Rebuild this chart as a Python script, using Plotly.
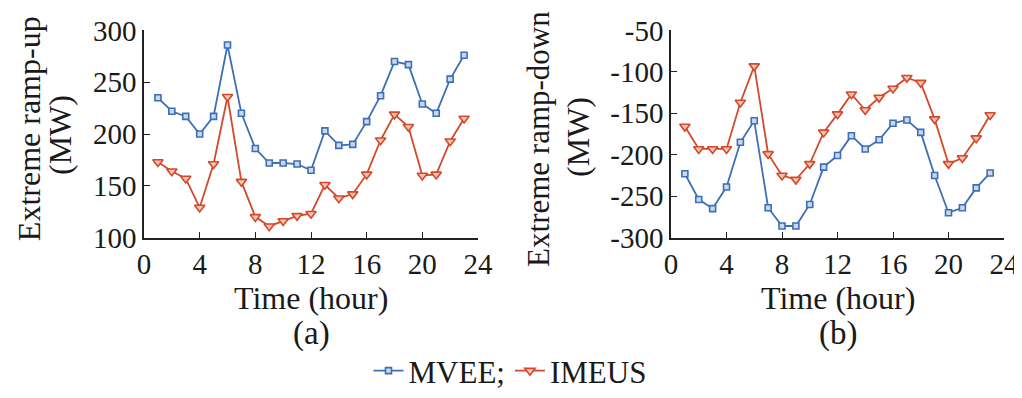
import plotly.graph_objects as go

hours = list(range(1, 24))
up_mvee = [235, 222, 217, 200, 217, 286, 220, 186, 172, 172, 171, 165, 203, 189, 190, 212, 237, 270, 267, 229, 220, 253, 276]
up_imeus = [173, 164, 157, 129, 171, 236, 154, 120, 111, 116, 121, 123, 151, 138, 142, 161, 194, 219, 207, 160, 161, 193, 215]
down_mvee = [-223, -254, -265, -239, -185, -159, -264, -286, -286, -260, -215, -201, -177, -193, -182, -162, -158, -173, -225, -270, -264, -240, -222]
down_imeus = [-166, -193, -193, -193, -137, -93, -199, -225, -230, -211, -173, -151, -127, -146, -131, -120, -107, -113, -157, -211, -204, -180, -152]

x_ticks = [0, 4, 8, 12, 16, 20, 24]
up_ticks = [100, 150, 200, 250, 300]
down_ticks = [-300, -250, -200, -150, -100, -50]
down_tick_text = ["-300", "-250", "-200", "-150", "-100", "-50"]

BLUE = "#3d6fb6"
RED = "#d24a2b"
FONT = "Liberation Serif"
TXT = "#1a1a1a"

# page body has an 8px margin; figure is sized to fill the rest of the window
W, H, OFF = 1014, 390, 8

fig = go.Figure()

def add(x, y, xa, ya, name, color, symbol, size, show):
    fig.add_trace(go.Scatter(
        x=x, y=y, xaxis=xa, yaxis=ya, name=name, mode="lines+markers",
        line=dict(color=color, width=1.8),
        marker=dict(symbol=symbol, size=size, color="#c9d8ee" if symbol == "square" else "#f3c4b4",
                    line=dict(color=color, width=1.6)),
        showlegend=show, legendrank=1 if name.startswith("MVEE") else 2,
    ))

add(hours, up_mvee, "x", "y", "MVEE;", BLUE, "square", 6, True)
add(hours, up_imeus, "x", "y", "IMEUS", RED, "triangle-down", 9, True)
add(hours, down_mvee, "x2", "y2", "MVEE;", BLUE, "square", 6, False)
add(hours, down_imeus, "x2", "y2", "IMEUS", RED, "triangle-down", 9, False)

def px(xp):
    return (xp - OFF) / W

def py(yp):
    return 1 - (yp - OFF) / H

ydom = [py(243), py(31)]
axis_common = dict(showgrid=False, zeroline=False, showline=True, linecolor="#222", linewidth=1.6,
                   ticks="inside", ticklen=6, tickwidth=1.4, tickcolor="#222",
                   tickfont=dict(family=FONT, size=29, color=TXT), automargin=False)

fig.update_layout(
    width=W, height=H,
    margin=dict(l=0, r=0, t=0, b=0),
    paper_bgcolor="white", plot_bgcolor="white",
    xaxis=dict(domain=[px(144), px(478)], range=[0, 24], tickvals=x_ticks, anchor="y", **axis_common),
    yaxis=dict(domain=ydom, range=[100, 300], tickvals=up_ticks, anchor="x", **axis_common),
    xaxis2=dict(domain=[px(671), px(1004)], range=[0, 24], tickvals=x_ticks, anchor="y2", **axis_common),
    yaxis2=dict(domain=ydom, range=[-300, -50], tickvals=down_ticks, ticktext=down_tick_text,
                anchor="x2", **axis_common),
    legend=dict(orientation="h", x=px(510), xanchor="center", y=py(380), yanchor="middle",
                font=dict(family=FONT, size=31, color=TXT), itemwidth=30, tracegroupgap=0,
                bgcolor="rgba(0,0,0,0)"),
)

def ann(text, x, y, size, angle=0):
    fig.add_annotation(text=text, x=px(x), y=py(y), xref="paper", yref="paper",
                       showarrow=False, textangle=angle, xanchor="center", yanchor="middle",
                       font=dict(family=FONT, size=size, color=TXT))

ann("Time (hour)", 311, 305, 32)
ann("Time (hour)", 838, 305, 32)
ann("(a)", 311, 341, 33)
ann("(b)", 838, 341, 33)
ann("Extreme ramp-up", 29, 132, 32, -90)
ann("(MW)", 60, 138, 32, -90)
ann("Extreme ramp-down", 539, 142, 31, -90)
ann("(MW)", 578, 140, 32, -90)

fig.write_html("out.html")
